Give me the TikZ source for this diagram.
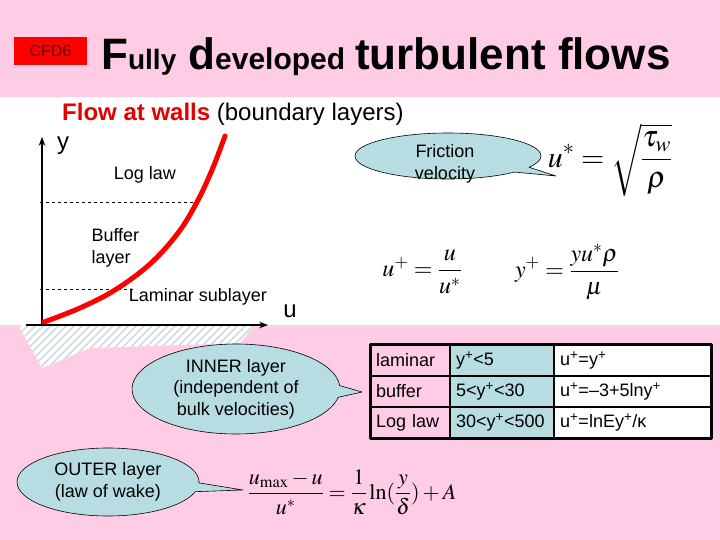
\documentclass[tikz,border=0pt]{standalone}
\usepackage{mathptmx}
\usepackage[no-math]{fontspec}
\setmainfont{Liberation Sans}
\usetikzlibrary{shapes.callouts,patterns.meta,arrows.meta}
\definecolor{slidepink}{RGB}{255,204,230}
\definecolor{bubblefill}{RGB}{183,221,226}
\definecolor{hatchgray}{RGB}{200,216,218}
\definecolor{cfdtext}{RGB}{90,0,0}
\newcommand{\fsz}[2]{\fontsize{#1}{#2}\selectfont}
\tikzset{
	bubble/.style={ellipse callout, draw=black, fill=bubblefill, line width=0.6pt, font=\fsz{18}{21.5}, align=center, inner sep=0pt},
	cell/.style={rectangle, anchor=west, minimum height=31, inner xsep=6pt, inner ysep=0pt, align=left, font=\fsz{18}{21.5}},
}
\begin{document}
\begin{tikzpicture}[x=1pt, y=-1pt, line join=round, >=Stealth]
	\useasboundingbox (0,0) rectangle (720,540);
	\fill[slidepink] (0,0) rectangle (720,540);
	\fill[white] (0,97) rectangle (720,325);
	% title
	\node[fill=red, minimum width=73, minimum height=28, inner sep=0pt, font=\fsz{16}{18}, text=cfdtext] (cfd) at (50.5,51) {CFD6};
	\node[anchor=base west, inner sep=0pt] (title) at (101,70) {\bfseries\fsz{44}{50}F\fsz{28}{30}ully\hspace{12pt}\fsz{44}{50}d\fsz{30}{30}eveloped\hspace{10pt}\fsz{44}{50}turbulent flows};
	\node[anchor=base west, inner sep=0pt, font=\fsz{24}{28}] (walls) at (62,121) {\textcolor{red!90!black}{\bfseries Flow at walls} (boundary layers)};
	% wall and axes
	\fill[white] (18,325) -- (255,325) -- (240,343) -- (90,348) -- (42,368) -- cycle;
	\fill[pattern={Lines[angle=45, distance=5.5pt, line width=1.4pt]}, pattern color=hatchgray] (18,325) -- (255,325) -- (240,343) -- (90,348) -- (42,368) -- cycle;
	\coordinate (O) at (42,325);
	\coordinate (yTop) at (42,137);
	\coordinate (xLeft) at (26,325);
	\coordinate (xRight) at (268,325);
	\draw[->, line width=1.3pt] (O) -- (yTop);
	\draw[->, line width=1.3pt] (xLeft) -- (xRight);
	\draw[dashed, line width=0.5pt] (40,202) -- (197,202);
	\draw[dashed, line width=0.5pt] (40,289) -- (135,289);
	\draw[red, line width=5pt, line cap=round] plot[smooth, tension=0.6] coordinates {(44,322) (80,308) (115,290) (150,264) (178,233) (197,202) (212,170) (225,136)};
	\node[font=\fsz{24}{28}] (ylab) at (63,146) {y};
	\node[font=\fsz{24}{28}] (ulab) at (290,311) {u};
	\node[font=\fsz{18}{21.5}] (loglaw) at (145,175) {Log law};
	\node[font=\fsz{18}{21.5}, align=left, anchor=west] (buffer) at (88,248) {Buffer\\layer};
	\node[font=\fsz{18}{21.5}] (laminar) at (198,297) {Laminar sublayer};
	% formulas
	\node (ustar) at (610,160) {\fsz{30}{34}$\displaystyle u^{*}=\sqrt{\frac{\tau_{w}}{\rho}}$};
	\node (uplus) at (422,272) {\fsz{24}{28}$\displaystyle u^{+}=\frac{u}{u^{*}}$};
	\node (yplus) at (567,272) {\fsz{24}{28}$\displaystyle y^{+}=\frac{y u^{*}\rho}{\mu}$};
	\node (wake) at (352,492) {\fsz{22}{26}$\displaystyle\frac{u_{\max}-u}{u^{*}}=\frac{1}{\kappa}\ln(\frac{y}{\delta})+A$};
	% callouts
	\coordinate (fricTip) at (556,176);
	\coordinate (innerTip) at (362,392);
	\coordinate (outerTip) at (243,490);
	\node[bubble, minimum width=186, minimum height=46, callout absolute pointer={(fricTip)}] (fric) at (448,156) {};
	\node[font=\fsz{18}{21.5}, align=center] (fricText) at (445,164) {Friction\\velocity};
	\node[bubble, minimum width=208, minimum height=90, callout absolute pointer={(innerTip)}] (inner) at (236,389) {INNER layer\\(independent of\\bulk velocities)};
	\node[bubble, minimum width=182, minimum height=68, callout absolute pointer={(outerTip)}] (outer) at (108,482) {OUTER layer\\(law of wake)};
	% table
	\foreach \yy/\ta/\tb/\tc [count=\i] in {360.5/laminar/{y\textsuperscript{+}<5}/{u\textsuperscript{+}=y\textsuperscript{+}},
		391.5/buffer/{5<y\textsuperscript{+}<30}/{u\textsuperscript{+}=\textendash3+5lny\textsuperscript{+}},
		422.5/Log law/{30<y\textsuperscript{+}<500}/{u\textsuperscript{+}=lnEy\textsuperscript{+}/κ}} {
		\node[cell, fill=slidepink, text width=68] (la\i) at (370,\yy) {\ta};
		\node[cell, fill=bubblefill, text width=92] (lb\i) at (450,\yy) {\tb};
		\node[cell, fill=white, text width=145] (lc\i) at (554,\yy) {\tc};
	}
	\draw[line width=2pt] (la1.north east) -- (la3.south east);
	\draw[line width=2pt] (lb1.north east) -- (lb3.south east);
	\draw[line width=2pt] (la1.south west) -- (lc1.south east);
	\draw[line width=2pt] (la2.south west) -- (lc2.south east);
	\draw[line width=3pt] (la1.north west) rectangle (lc3.south east);
\end{tikzpicture}
\end{document}
